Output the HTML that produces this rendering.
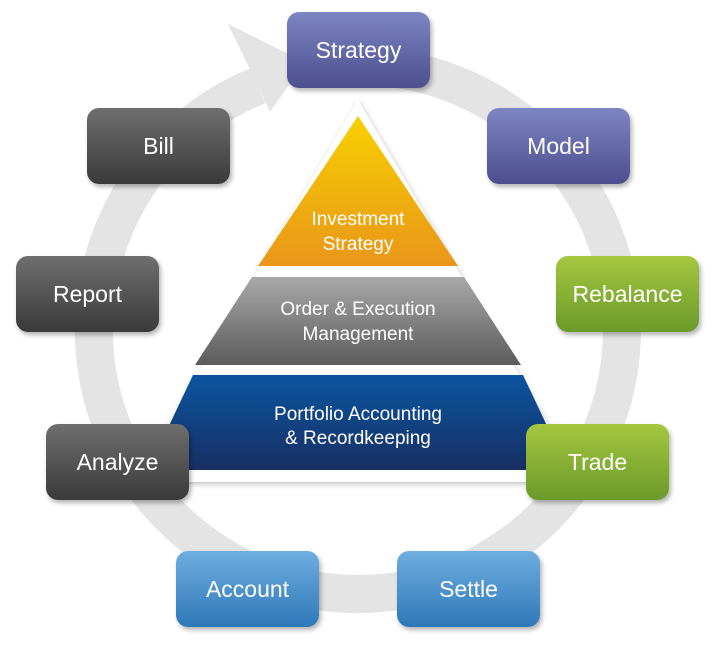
<!DOCTYPE html>
<html><head><style>
body{margin:0;background:#fff;width:718px;height:654px;overflow:hidden;position:relative;font-family:"Liberation Sans",sans-serif}
.b{position:absolute;width:143px;height:76px;border-radius:12px;color:#fff;font-size:23px;display:flex;align-items:center;justify-content:center;box-shadow:2px 3px 5px rgba(0,0,0,.3)}
.p{background:linear-gradient(#7d86c2,#4d4e8e)}
.g{background:linear-gradient(#6f6f6f,#3a3a3a)}
.gr{background:linear-gradient(#a5c63f,#6a9a2a)}
.bl{background:linear-gradient(#6eaee0,#2f78b8)}
</style></head><body>
<svg width="718" height="654" style="position:absolute;left:0;top:0">
<defs>
<filter id="sh" x="-10%" y="-10%" width="120%" height="120%"><feDropShadow dx="1" dy="2" stdDeviation="3" flood-opacity=".25"/></filter>
<linearGradient id="y" x1="0" y1="0" x2="0" y2="1"><stop offset="0" stop-color="#f7d000"/><stop offset="1" stop-color="#e9961a"/></linearGradient>
<linearGradient id="gg" x1="0" y1="0" x2="0" y2="1"><stop offset="0" stop-color="#a8a8a8"/><stop offset="1" stop-color="#5c5c5c"/></linearGradient>
<linearGradient id="bb" x1="0" y1="0" x2="0" y2="1"><stop offset="0" stop-color="#0a55a0"/><stop offset="1" stop-color="#182f64"/></linearGradient>
</defs>
<path d="M 340 66.6 A 264 264 0 1 1 258 85.6" fill="none" stroke="#e4e4e4" stroke-width="38"/>
<polygon points="228,24 305,62 270,112 258,86" fill="#e4e4e4"/>
<polygon points="358,100 582,482 134,482" fill="#fff" filter="url(#sh)"/>
<polygon points="358,116 458,266 258,266" fill="url(#y)"/>
<polygon points="252,277 464,277 521,365 195,365" fill="url(#gg)"/>
<polygon points="193,375 523,375 568,470 148,470" fill="url(#bb)"/>
<g fill="#fff" font-size="19" text-anchor="middle" font-family="Liberation Sans,sans-serif">
<text x="358" y="225">Investment</text><text x="358" y="250">Strategy</text>
<text x="358" y="315">Order &amp; Execution</text><text x="358" y="340">Management</text>
<text x="358" y="420">Portfolio Accounting</text><text x="358" y="444">&amp; Recordkeeping</text>
</g>
</svg>
<div class="b p" style="left:287px;top:12px">Strategy</div>
<div class="b p" style="left:487px;top:108px">Model</div>
<div class="b gr" style="left:556px;top:256px">Rebalance</div>
<div class="b gr" style="left:526px;top:424px">Trade</div>
<div class="b bl" style="left:397px;top:551px">Settle</div>
<div class="b bl" style="left:176px;top:551px">Account</div>
<div class="b g" style="left:46px;top:424px">Analyze</div>
<div class="b g" style="left:16px;top:256px">Report</div>
<div class="b g" style="left:87px;top:108px">Bill</div>
</body></html>
